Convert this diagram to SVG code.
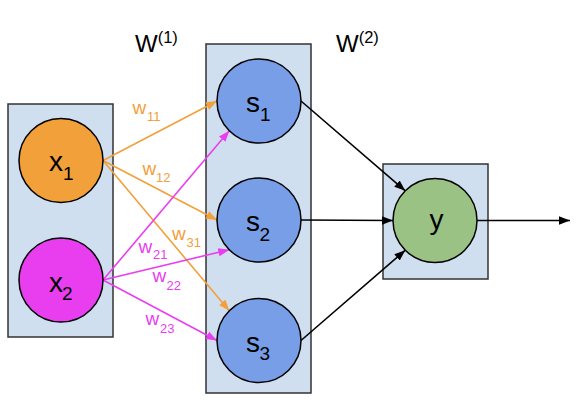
<svg xmlns="http://www.w3.org/2000/svg" width="582" height="414" viewBox="0 0 582 414">
<style>
.box{fill:#cfdff0;stroke:#333;stroke-width:1.5}
.node{stroke:#000;stroke-width:1.5}
.lbl{font-family:"Liberation Sans",Arial,sans-serif;fill:#000}
.main{font-size:28px}
.sub{font-size:19px}
.w{font-family:"Liberation Sans",Arial,sans-serif;font-size:19px}
.ws{font-size:13px}
.or{fill:#f2a03a}
.mg{fill:#e93ef0}
.c{fill:none;stroke-width:1.6}
</style>
<defs>
<marker id="ao" markerUnits="userSpaceOnUse" markerWidth="12" markerHeight="10" refX="11" refY="5" orient="auto"><path d="M0,0.8 L11,5 L0,9.2 Z" fill="#f2a03a"/></marker>
<marker id="am" markerUnits="userSpaceOnUse" markerWidth="12" markerHeight="10" refX="11" refY="5" orient="auto"><path d="M0,0.8 L11,5 L0,9.2 Z" fill="#e93ef0"/></marker>
<marker id="ab" markerUnits="userSpaceOnUse" markerWidth="12" markerHeight="10" refX="11" refY="5" orient="auto"><path d="M0,0.8 L11,5 L0,9.2 Z" fill="#000"/></marker>
</defs>
<rect x="0" y="0" width="582" height="414" fill="#fff"/>

<g id="layers">
<rect id="input-layer" class="box" x="8" y="104" width="105" height="233"/>
<rect id="hidden-layer" class="box" x="206" y="44" width="105" height="349"/>
<rect id="output-layer" class="box" x="383" y="164" width="105" height="115"/>
</g>

<g id="connectors">
<line class="c" stroke="#f2a03a" x1="103" y1="160.5" x2="217" y2="101" marker-end="url(#ao)"/>
<line class="c" stroke="#f2a03a" x1="103" y1="160.5" x2="217" y2="220" marker-end="url(#ao)"/>
<line class="c" stroke="#f2a03a" x1="103" y1="160.5" x2="229.3" y2="310.8" marker-end="url(#ao)"/>
<line class="c" stroke="#e93ef0" x1="103" y1="280" x2="229.3" y2="130.7" marker-end="url(#am)"/>
<line class="c" stroke="#e93ef0" x1="103" y1="280" x2="229.3" y2="249.7" marker-end="url(#am)"/>
<line class="c" stroke="#e93ef0" x1="103" y1="280" x2="217" y2="340.5" marker-end="url(#am)"/>
<line class="c" stroke="#000" x1="301" y1="101" x2="405.3" y2="190.8" marker-end="url(#ab)"/>
<line class="c" stroke="#000" x1="301" y1="220" x2="393" y2="220.5" marker-end="url(#ab)"/>
<line class="c" stroke="#000" x1="301" y1="340.5" x2="405.3" y2="250.2" marker-end="url(#ab)"/>
<line class="c" stroke="#000" x1="477" y1="220.5" x2="570" y2="220.5" marker-end="url(#ab)"/>
</g>

<g id="x1"><circle class="node" cx="61" cy="160.5" r="42" fill="#f2a03a"/><text class="lbl"><tspan class="main" x="49" y="171">x</tspan><tspan class="sub" x="63" y="180">1</tspan></text></g>
<g id="x2"><circle class="node" cx="61" cy="280" r="42" fill="#e93ef0"/><text class="lbl"><tspan class="main" x="49" y="291.5">x</tspan><tspan class="sub" x="62" y="300">2</tspan></text></g>
<g id="s1"><circle class="node" cx="259" cy="101" r="42" fill="#779ee6"/><text class="lbl"><tspan class="main" x="246" y="111.5">s</tspan><tspan class="sub" x="260" y="121">1</tspan></text></g>
<g id="s2"><circle class="node" cx="259" cy="220" r="42" fill="#779ee6"/><text class="lbl"><tspan class="main" x="246" y="231">s</tspan><tspan class="sub" x="259.5" y="240.5">2</tspan></text></g>
<g id="s3"><circle class="node" cx="259" cy="340.5" r="42" fill="#779ee6"/><text class="lbl"><tspan class="main" x="246" y="351.5">s</tspan><tspan class="sub" x="259.5" y="359.5">3</tspan></text></g>
<g id="y"><circle class="node" cx="435" cy="220.5" r="42" fill="#9bc285"/><text class="lbl main" x="429.5" y="229">y</text></g>

<g id="weight-labels">
<text class="lbl" x="135" y="51.5" font-size="24">W<tspan font-size="16.5" dy="-9">(1)</tspan></text>
<text class="lbl" x="336" y="51.5" font-size="24">W<tspan font-size="16.5" dy="-9">(2)</tspan></text>
<text class="w or" x="132.5" y="114">w<tspan class="ws" x="147" y="121">11</tspan></text>
<text class="w or" x="142.5" y="174.5">w<tspan class="ws" x="156" y="181.5">12</tspan></text>
<text class="w or" x="172" y="239.5">w<tspan class="ws" x="186.5" y="246.5">31</tspan></text>
<text class="w mg" x="138.5" y="252.5">w<tspan class="ws" x="153" y="259">21</tspan></text>
<text class="w mg" x="152.5" y="282">w<tspan class="ws" x="166.5" y="290">22</tspan></text>
<text class="w mg" x="145.5" y="324.5">w<tspan class="ws" x="160" y="333">23</tspan></text>
</g>
</svg>
